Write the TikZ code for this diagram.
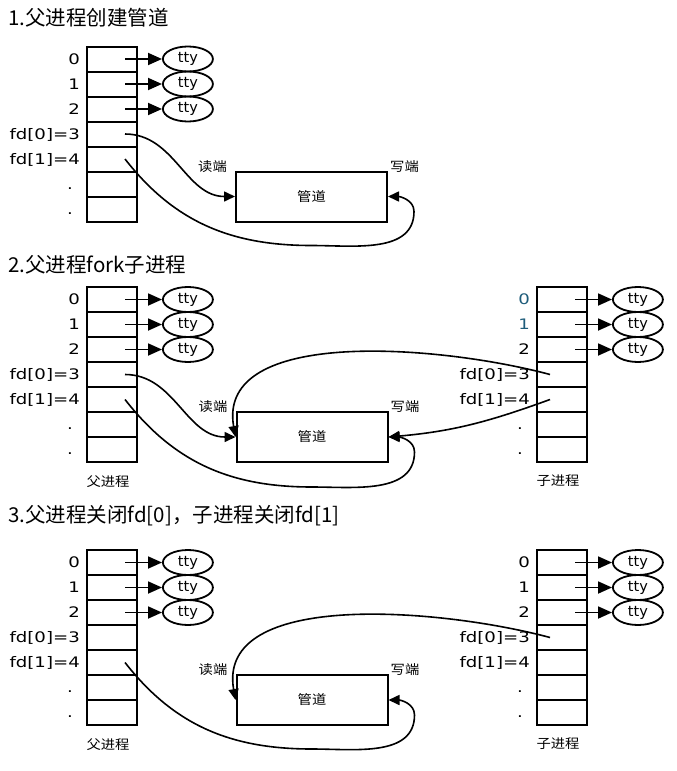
\documentclass[tikz,border=0pt]{standalone}
\usepackage{fontspec}
\setmainfont{DejaVu Sans}
\newfontfamily\fdfont{DejaVu Sans}[FakeStretch=1.25]
\newfontfamily\cjk{Noto Sans CJK SC}
\newfontfamily\cjkwide{Noto Sans CJK SC}[FakeStretch=1.1]
\usetikzlibrary{positioning}
\usetikzlibrary{shapes.geometric}
\usetikzlibrary{arrows.meta}
\definecolor{fdteal}{RGB}{30,92,122}

\begin{document}
\begin{tikzpicture}[x=1pt,y=-1pt,node distance=25pt,
					>={Triangle[length=11pt,width=10pt]}]
	\tikzstyle{cell}=[draw,line width=2pt,minimum width=50pt,minimum height=25pt,inner sep=0pt]
	\tikzstyle{fdlabel}=[font=\fdfont\fontsize{14.5}{14.5}\selectfont,inner sep=0pt,text height=10.6pt,text depth=0pt]
	\tikzstyle{tty}=[ellipse,draw,line width=1.8pt,minimum width=50pt,minimum height=25pt,inner sep=0pt,font=\fontsize{14.5}{14.5}\selectfont]
	\tikzstyle{pipe}=[draw,line width=2pt,minimum width=151pt,minimum height=50pt,font=\cjkwide\fontsize{13}{13}\selectfont]
	\tikzstyle{tag}=[font=\cjkwide\fontsize{13}{13}\selectfont,inner sep=1pt]
	\tikzstyle{title}=[anchor=west,font=\cjk\fontsize{20.5}{20.5}\selectfont,inner sep=0pt]
	\tikzstyle{link}=[->,line width=1.8pt,>={Triangle[length=14pt,width=12pt]}]
	\tikzstyle{flow}=[->,line width=1.6pt]

	\useasboundingbox (0,0) rectangle (677,771);

	% titles
	\node[title] (title1) at (8,17.5)  {1.父进程创建管道};
	\node[title] (title2) at (8,265)   {2.父进程fork子进程};
	\node[title] (title3) at (8,516)   {3.父进程关闭fd[0]，子进程关闭fd[1]};

	% file descriptor tables
	\foreach \t/\x/\y in {P1/112/59, P2/112/299.5, P3/112/562.5, C2/562/299.5, C3/562/562.5} {
		\node[cell] (\t-0) at (\x,\y) {};
		\foreach \i [count=\j from 0] in {1,...,6}
			\node[cell] (\t-\i) [below of=\t-\j] {};
		\foreach \i in {0,1,2} {
			\node[tty] (\t-tty\i) [right=24pt of \t-\i] {tty};
			\draw[link] ([xshift=13pt]\t-\i.center) -- (\t-tty\i);
		}
	}
	\foreach \t/\c in {P1/black, P2/black, P3/black, C2/fdteal, C3/black} {
		\node[fdlabel,text=\c] (\t-l0) [left=6pt of \t-0]  {0};
		\node[fdlabel,text=\c] (\t-l1) [left=6pt of \t-1]  {1};
		\node[fdlabel]         (\t-l2) [left=6pt of \t-2]  {2};
		\node[fdlabel]         (\t-l3) [left=6pt of \t-3]  {fd[0]=3};
		\node[fdlabel]         (\t-l4) [left=6pt of \t-4]  {fd[1]=4};
		\node[fdlabel]         (\t-l5) [left=13pt of \t-5] {.};
		\node[fdlabel]         (\t-l6) [left=13pt of \t-6] {.};
	}

	% pipes
	\node[pipe] (pipe1) at (311.5,196.5) {管道};
	\node[pipe] (pipe2) at (312,437)     {管道};
	\node[pipe] (pipe3) at (312,700)     {管道};
	\foreach \p in {1,2,3} {
		\node[tag] (read\p)  [above left=-3pt and 7pt of pipe\p.north west]  {读端};
		\node[tag] (write\p) [above right=-3pt and 1pt of pipe\p.north east] {写端};
	}
	\node[tag] (parent2) [below=11pt of P2-6,xshift=-4pt] {父进程};
	\node[tag] (child2)  [below=11pt of C2-6,xshift=-4pt] {子进程};
	\node[tag] (parent3) [below=11pt of P3-6,xshift=-4pt] {父进程};
	\node[tag] (child3)  [below=11pt of C3-6,xshift=-4pt] {子进程};

	% 1. parent creates the pipe
	\draw[flow] ([xshift=13pt]P1-3.center) to[out=0,in=180] (pipe1.west);
	\draw[flow] ([xshift=13pt]P1-4.center) to[out=-52,in=180] ([yshift=-23pt]pipe1.south)
		to[out=0,in=-90] ([xshift=26pt,yshift=-15pt]pipe1.east) to[out=90,in=0] (pipe1.east);

	% 2. fork
	\draw[flow] ([xshift=13pt]P2-3.center) to[out=0,in=180] (pipe2.west);
	\draw[flow] ([xshift=13pt]P2-4.center) to[out=-52,in=180] ([yshift=-24pt]pipe2.south)
		to[out=0,in=-90] ([xshift=26pt,yshift=-15pt]pipe2.east) to[out=90,in=0] (pipe2.east);
	\draw[flow] ([xshift=-12pt]C2-3.center) to[out=165,in=100,looseness=.9] (pipe2.west);
	\draw[flow] ([xshift=-12pt]C2-4.center) to[out=200,in=5] (pipe2.east);

	% 3. close the unused ends
	\draw[flow] ([xshift=13pt]P3-4.center) to[out=-52,in=180] ([yshift=-23pt]pipe3.south)
		to[out=0,in=-90] ([xshift=26pt,yshift=-15pt]pipe3.east) to[out=90,in=0] (pipe3.east);
	\draw[flow] ([xshift=-12pt]C3-3.center) to[out=165,in=100,looseness=.9] (pipe3.west);
\end{tikzpicture}
\end{document}
